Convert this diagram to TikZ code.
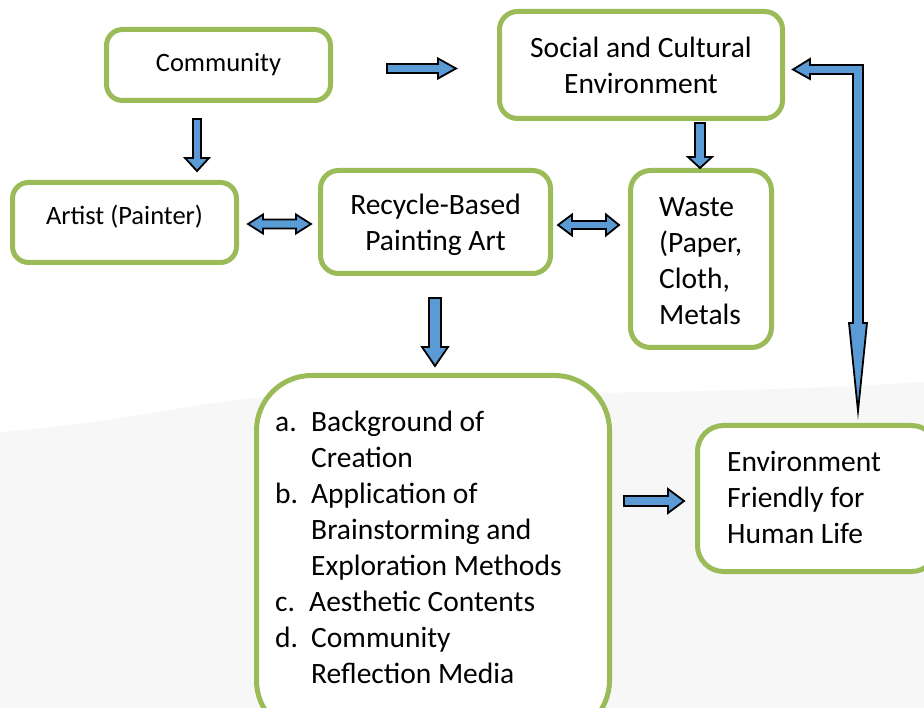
\documentclass[tikz,border=0pt]{standalone}
\usepackage{fontspec}
\setmainfont{Carlito}
\definecolor{boxgreen}{HTML}{9BBB59}
\definecolor{arrowblue}{HTML}{5B9BD5}
\definecolor{bggray}{HTML}{F7F7F7}
\begin{document}
\begin{tikzpicture}[x=1pt,y=-1pt,
  gbox/.style={draw=boxgreen, line width=5pt, fill=white, rounded corners=#1, inner sep=0pt},
  gbox/.default=16pt,
  bigtxt/.style={font=\fontsize{29.5}{36}\selectfont, inner sep=0pt},
  smalltxt/.style={font=\fontsize{26.5}{32}\selectfont, inner sep=0pt},
  blk/.style={fill=arrowblue, draw=black, line width=1.8pt, line join=miter, miter limit=20}]
\clip (0,0) rectangle (924,708);
\fill[white] (0,0) rectangle (924,708);
\fill[bggray] (0,432) .. controls (150,420) and (200,398) .. (300,396) .. controls (500,392) and (700,396) .. (924,382) -- (924,708) -- (0,708) -- cycle;

% boxes
\node[gbox, minimum width=224pt, minimum height=71pt] (comm) at (218.5,65) {};
\node[smalltxt] (commtext) at (218.5,65) {Community};
\node[gbox=18pt, minimum width=283pt, minimum height=107pt] (soc) at (641,65) {};
\node[bigtxt, align=center] (soctext) at (641,65) {Social and Cultural\\Environment};
\node[gbox, minimum width=224pt, minimum height=80pt] (art) at (124.5,222.5) {};
\node[smalltxt] (arttext) at (124.5,217) {Artist (Painter)};
\node[gbox=18pt, minimum width=230pt, minimum height=103pt] (rec) at (435.5,222) {};
\node[bigtxt, align=center] (rectext) at (435.5,225) {Recycle-Based\\Painting Art};
\node[gbox=20pt, minimum width=141pt, minimum height=177pt] (waste) at (701,259) {};
\node[bigtxt, align=left, anchor=west] (wastetext) at (659,261) {Waste\\(Paper,\\Cloth,\\Metals};
\node[gbox=55pt, minimum width=353pt, minimum height=360pt] (big) at (433,555.5) {};
\node[bigtxt, align=left, anchor=west] (bigtext) at (275,547.5) {%
\makebox[36pt][l]{a.}Background of\\
\hspace*{36pt}Creation\\
\makebox[36pt][l]{b.}Application of\\
\hspace*{36pt}Brainstorming and\\
\hspace*{36pt}Exploration Methods\\
\makebox[34pt][l]{c.}Aesthetic Contents\\
\makebox[36pt][l]{d.}Community\\
\hspace*{36pt}Reflection Media};
\node[gbox=26pt, minimum width=240pt, minimum height=146pt] (env) at (817.5,498.5) {};
\node[bigtxt, align=left, anchor=west] (envtext) at (727,497.5) {Environment\\Friendly for\\Human Life};

% block arrows
% Community -> Social
\draw[blk] (387,64) -- (438,64) -- (438,58.5) -- (456,68.5) -- (438,78.5) -- (438,73) -- (387,73) -- cycle;
% Community -> Artist
\draw[blk] (193,119) -- (201,119) -- (201,158) -- (209,158) -- (197,171) -- (185,158) -- (193,158) -- cycle;
% Social -> Waste
\draw[blk] (695,123) -- (705,123) -- (705,157) -- (712,157) -- (700,168) -- (688,157) -- (695,157) -- cycle;
% Artist <-> Recycle
\draw[blk] (248,224) -- (263,214.5) -- (263,219.5) -- (296,219.5) -- (296,214.5) -- (311,224) -- (296,233.5) -- (296,228.5) -- (263,228.5) -- (263,233.5) -- cycle;
% Recycle <-> Waste
\draw[blk] (558,225) -- (572,214.5) -- (572,221) -- (606,221) -- (606,214.5) -- (619,225) -- (606,235.5) -- (606,229) -- (572,229) -- (572,235.5) -- cycle;
% Recycle -> big list
\draw[blk] (429,298) -- (441,298) -- (441,347) -- (448,347) -- (435,366) -- (422,347) -- (429,347) -- cycle;
% big list -> Environment friendly
\draw[blk] (624,496) -- (668,496) -- (668,489) -- (684,501) -- (668,513) -- (668,506) -- (624,506) -- cycle;
% Environment friendly <-> Social (bent arrow)
\draw[blk] (863,65) -- (863,323) -- (867,323) -- (858,411) -- (849,323) -- (853,323) -- (853,74) -- (810,74) -- (810,79) -- (793,69.5) -- (810,59) -- (810,65) -- cycle;
\end{tikzpicture}
\end{document}
